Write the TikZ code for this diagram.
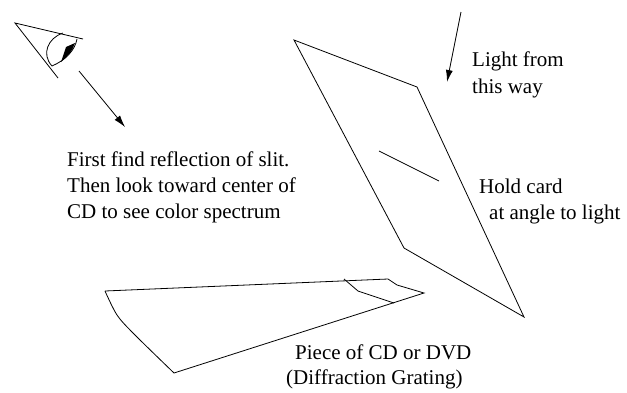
\documentclass[tikz,border=0pt]{standalone}
\usepackage{fontspec}
\setmainfont{Liberation Serif}
\usetikzlibrary{arrows.meta}
\begin{document}
\begin{tikzpicture}[x=1pt,y=-1pt,
  outline/.style={draw=black,line width=0.8pt,line join=miter},
  pointer/.style={draw=black,line width=0.8pt,-{Latex[length=12pt,width=7pt]}},
  caption/.style={anchor=base west,inner sep=0pt,font=\rmfamily\fontsize{21}{26}\selectfont}]
\useasboundingbox (0,0) rectangle (627,392);

% eye
\draw[outline] (83,39) -- (15,23) -- (58,78);
\draw[outline] (63,33) .. controls (48,38) and (41,54) .. (52,66);
\draw[outline] (77,39) .. controls (75,50) and (66,60) .. (52,66);
\fill (66,47) -- (75,43) .. controls (73,50) and (68,56) .. (61,62) -- cycle;

% viewing direction
\coordinate (eyefrom) at (79,71);
\coordinate (eyeto) at (125,127);
\draw[pointer] (eyefrom) -- (eyeto);

% card with slit
\draw[outline] (294,40) -- (417,87) -- (524,317) -- (404,248) -- cycle;
\draw[outline] (379,151) -- (439,181);

% incoming light
\coordinate (lightfrom) at (461,12);
\coordinate (lightto) at (447,82);
\draw[pointer] (lightfrom) -- (lightto);

% piece of disc
\draw[outline] (174,373) -- (424,293) -- (397,285) -- (388,279) -- (105,291);
\draw[outline] plot[smooth,tension=0.5] coordinates {(105,291) (117,315) (134,334) (174,373)};
\draw[outline] (344,279) -- (358,291) -- (394,303);

% captions
\node[caption] (light1) at (472,66) {Light from};
\node[caption] (light2) at (472,93) {this way};
\node[caption] (hold1) at (479,193) {Hold card};
\node[caption] (hold2) at (489,219) {at angle to light};
\node[caption] (find1) at (67,166) {First find reflection of slit.};
\node[caption] (find2) at (67,192) {Then look toward center of};
\node[caption] (find3) at (67,218) {CD to see color spectrum};
\node[caption] (piece1) at (295,359) {Piece of CD or DVD};
\node[caption] (piece2) at (286,384) {(Diffraction Grating)};
\end{tikzpicture}
\end{document}
